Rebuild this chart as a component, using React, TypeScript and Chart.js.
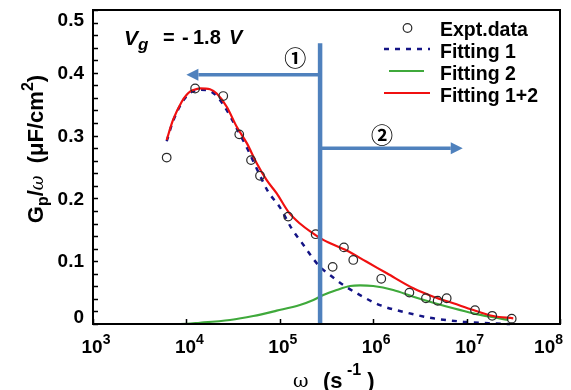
import React, { useEffect, useRef } from "react";
import { Chart, registerables } from "chart.js";

Chart.register(...registerables);

// ---------- data ----------
const exptOmega = [6150, 1.24e4, 2.48e4, 3.68e4, 4.92e4, 6.14e4, 1.23e5, 2.42e5, 3.68e5, 4.86e5, 6.12e5, 1.22e6, 2.44e6, 3.67e6, 4.9e6, 6.12e6, 1.23e7, 1.88e7, 3.04e7];
const exptValues = [0.265, 0.375, 0.363, 0.302, 0.261, 0.236, 0.171, 0.143, 0.091, 0.122, 0.102, 0.072, 0.050, 0.041, 0.037, 0.041, 0.022, 0.013, 0.0085];

const fit1Omega = [6152, 7194, 8913, 1.007e4, 1.094e4, 1.186e4, 1.40e4, 1.79e4, 2.11e4, 2.47e4, 3.56e4, 4.57e4, 5.85e4, 7.48e4, 1.0e5, 1.34e5, 1.71e5, 2.20e5, 2.69e5, 3.44e5, 4.79e5, 7.23e5, 1.18e6, 2.29e6, 4.40e6, 9.23e6, 1.93e7, 2.92e7];
const fit1Values = [0.291, 0.323, 0.352, 0.363, 0.368, 0.371, 0.373, 0.371, 0.363, 0.350, 0.308, 0.277, 0.243, 0.211, 0.186, 0.152, 0.130, 0.107, 0.091, 0.078, 0.062, 0.046, 0.030, 0.018, 0.009, 0.0037, 0.001, 0.0];

const fit2Omega = [6152, 8531, 1.40e4, 2.93e4, 5.2e4, 9.27e4, 1.64e5, 2.29e5, 2.92e5, 4.06e5, 5.65e5, 7.23e5, 1.0e6, 1.64e6, 2.69e6, 4.40e6, 7.21e6, 1.18e7, 1.93e7, 2.80e7];
const fit2Values = [0.0, 0.0, 0.002, 0.0064, 0.0127, 0.0212, 0.0303, 0.0382, 0.0462, 0.0541, 0.0605, 0.0616, 0.0605, 0.0541, 0.0435, 0.0339, 0.025, 0.017, 0.0107, 0.0064];

const fit12Omega = [6152, 7194, 8913, 1.007e4, 1.094e4, 1.186e4, 1.40e4, 1.79e4, 2.11e4, 2.70e4, 3.46e4, 4.43e4, 5.66e4, 7.24e4, 9.27e4, 1.23e5, 1.64e5, 2.29e5, 2.92e5, 5.2e5, 8.51e5, 1.40e6, 2.69e6, 4.40e6, 7.21e6, 1.18e7, 1.93e7, 3.16e7];
const fit12Values = [0.293, 0.325, 0.354, 0.365, 0.370, 0.3726, 0.3753, 0.3737, 0.367, 0.346, 0.314, 0.288, 0.256, 0.229, 0.208, 0.179, 0.160, 0.144, 0.134, 0.117, 0.099, 0.0807, 0.0568, 0.0435, 0.033, 0.0223, 0.0127, 0.009];

const legendLabels = ["Expt.data", "Fitting 1", "Fitting 2", "Fitting 1+2"];
const xTickExponents = [3, 4, 5, 6, 7, 8];
const yTickValues = [0, 0.1, 0.2, 0.3, 0.4, 0.5];
const yTickLabels = ["0", "0.1", "0.2", "0.3", "0.4", "0.5"];
const yMinorStep = 0.02;

// annotation anchors (data coordinates)
const dividerOmega = 2.7e5;
const dividerTop = 0.447;
const arrow1 = { toOmega: 1.0e4, y: 0.397, label: "①", labelOmega: 1.46e5, labelY: 0.424 };
const arrow2 = { toOmega: 9.1e6, y: 0.28, label: "②", labelOmega: 1.24e6, labelY: 0.301 };

const FONT = '"Liberation Sans", Arial, Helvetica, sans-serif';
const COLORS = { expt: "#2a2a2a", fit1: "#141485", fit2: "#3fa93b", fit12: "#f01010", arrow: "#4f81bd" };

const toXY = (xs: number[], ys: number[]) => xs.map((x, i) => ({ x, y: ys[i] }));

type Piece = { t: string; f: string; dy?: number };
function drawPieces(ctx: CanvasRenderingContext2D, pieces: Piece[], x: number, y: number, align: "left" | "center") {
  let total = 0;
  for (const p of pieces) {
    ctx.font = p.f;
    total += ctx.measureText(p.t).width;
  }
  let cx = align === "center" ? x - total / 2 : x;
  ctx.textAlign = "left";
  ctx.textBaseline = "alphabetic";
  for (const p of pieces) {
    ctx.font = p.f;
    ctx.fillText(p.t, cx, y + (p.dy || 0));
    cx += ctx.measureText(p.t).width;
  }
  return total;
}

function drawArrow(ctx: CanvasRenderingContext2D, x0: number, x1: number, y: number) {
  const dir = Math.sign(x1 - x0);
  const headLen = 12;
  const headHalf = 6;
  ctx.strokeStyle = COLORS.arrow;
  ctx.fillStyle = COLORS.arrow;
  ctx.lineWidth = 3.5;
  ctx.beginPath();
  ctx.moveTo(x0, y);
  ctx.lineTo(x1 - dir * headLen, y);
  ctx.stroke();
  ctx.beginPath();
  ctx.moveTo(x1, y);
  ctx.lineTo(x1 - dir * headLen, y - headHalf);
  ctx.lineTo(x1 - dir * headLen, y + headHalf);
  ctx.closePath();
  ctx.fill();
}

const decorPlugin = {
  id: "decor",
  afterDatasetsDraw(chart: any) {
    const { ctx, chartArea: a } = chart;
    const xs = chart.scales.x;
    const ys = chart.scales.y;
    ctx.save();

    // divider and arrows
    const dx = xs.getPixelForValue(dividerOmega);
    ctx.strokeStyle = COLORS.arrow;
    ctx.lineWidth = 4.5;
    ctx.beginPath();
    ctx.moveTo(dx, ys.getPixelForValue(dividerTop));
    ctx.lineTo(dx, a.bottom);
    ctx.stroke();
    drawArrow(ctx, dx, xs.getPixelForValue(arrow1.toOmega), ys.getPixelForValue(arrow1.y));
    drawArrow(ctx, dx, xs.getPixelForValue(arrow2.toOmega), ys.getPixelForValue(arrow2.y));
    ctx.fillStyle = "#000";
    ctx.font = `bold 22px "Noto Sans CJK JP", "DejaVu Sans", sans-serif`;
    ctx.textAlign = "center";
    ctx.textBaseline = "middle";
    for (const ar of [arrow1, arrow2]) {
      ctx.fillText(ar.label, xs.getPixelForValue(ar.labelOmega), ys.getPixelForValue(ar.labelY));
    }

    // frame
    ctx.strokeStyle = "#000";
    ctx.lineWidth = 2;
    ctx.strokeRect(a.left, a.top, a.right - a.left, a.bottom - a.top);

    // y ticks (inward)
    ctx.lineWidth = 1.5;
    ctx.beginPath();
    for (let v = 0; v <= 0.5 + 1e-9; v += yMinorStep) {
      const py = Math.round(ys.getPixelForValue(v)) + 0.5;
      ctx.moveTo(a.left, py);
      ctx.lineTo(a.left + 5, py);
    }
    // x ticks (inward)
    for (const e of xTickExponents) {
      const px = Math.round(xs.getPixelForValue(Math.pow(10, e))) + 0.5;
      ctx.moveTo(px, a.bottom);
      ctx.lineTo(px, a.bottom - 5);
    }
    ctx.stroke();

    // y tick labels
    ctx.fillStyle = "#000";
    ctx.font = `bold 19px ${FONT}`;
    ctx.textAlign = "right";
    ctx.textBaseline = "middle";
    yTickValues.forEach((v, i) => {
      let py = ys.getPixelForValue(v);
      py = Math.min(Math.max(py, a.top + 10), a.bottom - 7);
      ctx.fillText(yTickLabels[i], a.left - 9, py + 1);
    });

    // x tick labels 10^n
    for (const e of xTickExponents) {
      const px = xs.getPixelForValue(Math.pow(10, e));
      const pieces: Piece[] = [
        { t: "10", f: `bold 19px ${FONT}` },
        { t: String(e), f: `bold 14px ${FONT}`, dy: -9 },
      ];
      let total = 0;
      for (const p of pieces) { ctx.font = p.f; total += ctx.measureText(p.t).width; }
      let start = px - total / 2 + 3;
      if (start + total > chart.width - 8) start = chart.width - 8 - total;
      drawPieces(ctx, pieces, start, 353, "left");
    }

    // x title
    ctx.font = `19px "DejaVu Serif", serif`;
    ctx.textAlign = "left";
    ctx.textBaseline = "alphabetic";
    ctx.fillText("ω", 293, 387);
    drawPieces(ctx, [
      { t: "(s", f: `bold 22px ${FONT}` },
      { t: " -1", f: `bold 16px ${FONT}`, dy: -13 },
      { t: " )", f: `bold 22px ${FONT}` },
    ], 323, 388, "left");

    // y title (rotated)
    ctx.save();
    ctx.translate(43, 149);
    ctx.rotate(-Math.PI / 2);
    drawPieces(ctx, [
      { t: "G", f: `bold 22px ${FONT}` },
      { t: "p", f: `bold 16px ${FONT}`, dy: 5 },
      { t: "/", f: `bold 22px ${FONT}` },
      { t: "ω", f: `italic 18px "DejaVu Serif", serif` },
      { t: "  (", f: `bold 22px ${FONT}` },
      { t: "μF/cm", f: `bold 22px ${FONT}` },
      { t: "2", f: `bold 16px ${FONT}`, dy: -10 },
      { t: ")", f: `bold 22px ${FONT}` },
    ], 0, 0, "center");
    ctx.restore();

    // V_g annotation
    ctx.fillStyle = "#000";
    drawPieces(ctx, [
      { t: "V", f: `italic bold 21px ${FONT}` },
      { t: "g", f: `italic bold 17px ${FONT}`, dy: 5 },
    ], 124, 45, "left");
    ctx.font = `bold 20px ${FONT}`;
    ctx.fillText("=", 163, 44);
    ctx.fillText("-", 182, 44);
    ctx.fillText("1.8", 193, 44);
    ctx.font = `italic bold 20px ${FONT}`;
    ctx.fillText("V", 229, 44);

    // legend
    const ds = chart.data.datasets;
    const textX = 440;
    const rowY = [30, 52, 74, 96];
    ctx.font = `bold 19.5px ${FONT}`;
    ctx.textAlign = "left";
    ctx.textBaseline = "middle";
    legendLabels.forEach((lab, i) => {
      ctx.fillStyle = "#000";
      ctx.fillText(lab, textX, rowY[i] + 1);
    });
    // marker
    ctx.strokeStyle = ds[0].borderColor;
    ctx.lineWidth = ds[0].borderWidth;
    ctx.beginPath();
    ctx.arc(407.5, rowY[0] - 2, ds[0].pointRadius, 0, Math.PI * 2);
    ctx.stroke();
    const lineSpan = [[384, 430], [389, 424], [384, 430]];
    for (let i = 1; i <= 3; i++) {
      const d = ds[i];
      ctx.strokeStyle = d.borderColor;
      ctx.lineWidth = d.borderWidth;
      ctx.setLineDash(d.borderDash || []);
      ctx.beginPath();
      ctx.moveTo(lineSpan[i - 1][0], rowY[i] - 3);
      ctx.lineTo(lineSpan[i - 1][1], rowY[i] - 3);
      ctx.stroke();
    }
    ctx.setLineDash([]);

    ctx.restore();
  },
};

export default function App() {
  const ref = useRef<HTMLCanvasElement | null>(null);
  useEffect(() => {
    document.body.style.margin = "0";
    const canvas = ref.current;
    if (!canvas) return;
    const chart = new Chart(canvas, {
      type: "scatter",
      data: {
        datasets: [
          {
            label: legendLabels[0],
            data: toXY(exptOmega, exptValues),
            showLine: false,
            pointRadius: 4.3,
            pointStyle: "circle",
            borderColor: COLORS.expt,
            backgroundColor: "rgba(255,255,255,0)",
            borderWidth: 1.2,
            order: 0,
          },
          {
            label: legendLabels[1],
            data: toXY(fit1Omega, fit1Values),
            showLine: true,
            pointRadius: 0,
            borderColor: COLORS.fit1,
            borderWidth: 2.5,
            borderDash: [5, 6],
            cubicInterpolationMode: "monotone",
            order: 2,
          },
          {
            label: legendLabels[2],
            data: toXY(fit2Omega, fit2Values),
            showLine: true,
            pointRadius: 0,
            borderColor: COLORS.fit2,
            borderWidth: 2.2,
            cubicInterpolationMode: "monotone",
            order: 3,
          },
          {
            label: legendLabels[3],
            data: toXY(fit12Omega, fit12Values),
            showLine: true,
            pointRadius: 0,
            borderColor: COLORS.fit12,
            borderWidth: 2.2,
            cubicInterpolationMode: "monotone",
            order: 1,
          },
        ],
      } as any,
      options: {
        animation: false,
        responsive: false,
        devicePixelRatio: 1,
        clip: false as any,
        layout: { padding: { left: 93, top: 10, right: 11, bottom: 66 } },
        plugins: { legend: { display: false }, tooltip: { enabled: false } },
        scales: {
          x: { type: "logarithmic", min: 1e3, max: 1e8, display: false },
          y: { type: "linear", min: 0, max: 0.5, display: false },
        },
      },
      plugins: [decorPlugin],
    });
    return () => chart.destroy();
  }, []);
  return (
    <div style={{ width: 571, height: 390, position: "relative", background: "#fff" }}>
      <canvas ref={ref} width={571} height={390} style={{ display: "block", width: 571, height: 390 }} />
    </div>
  );
}
